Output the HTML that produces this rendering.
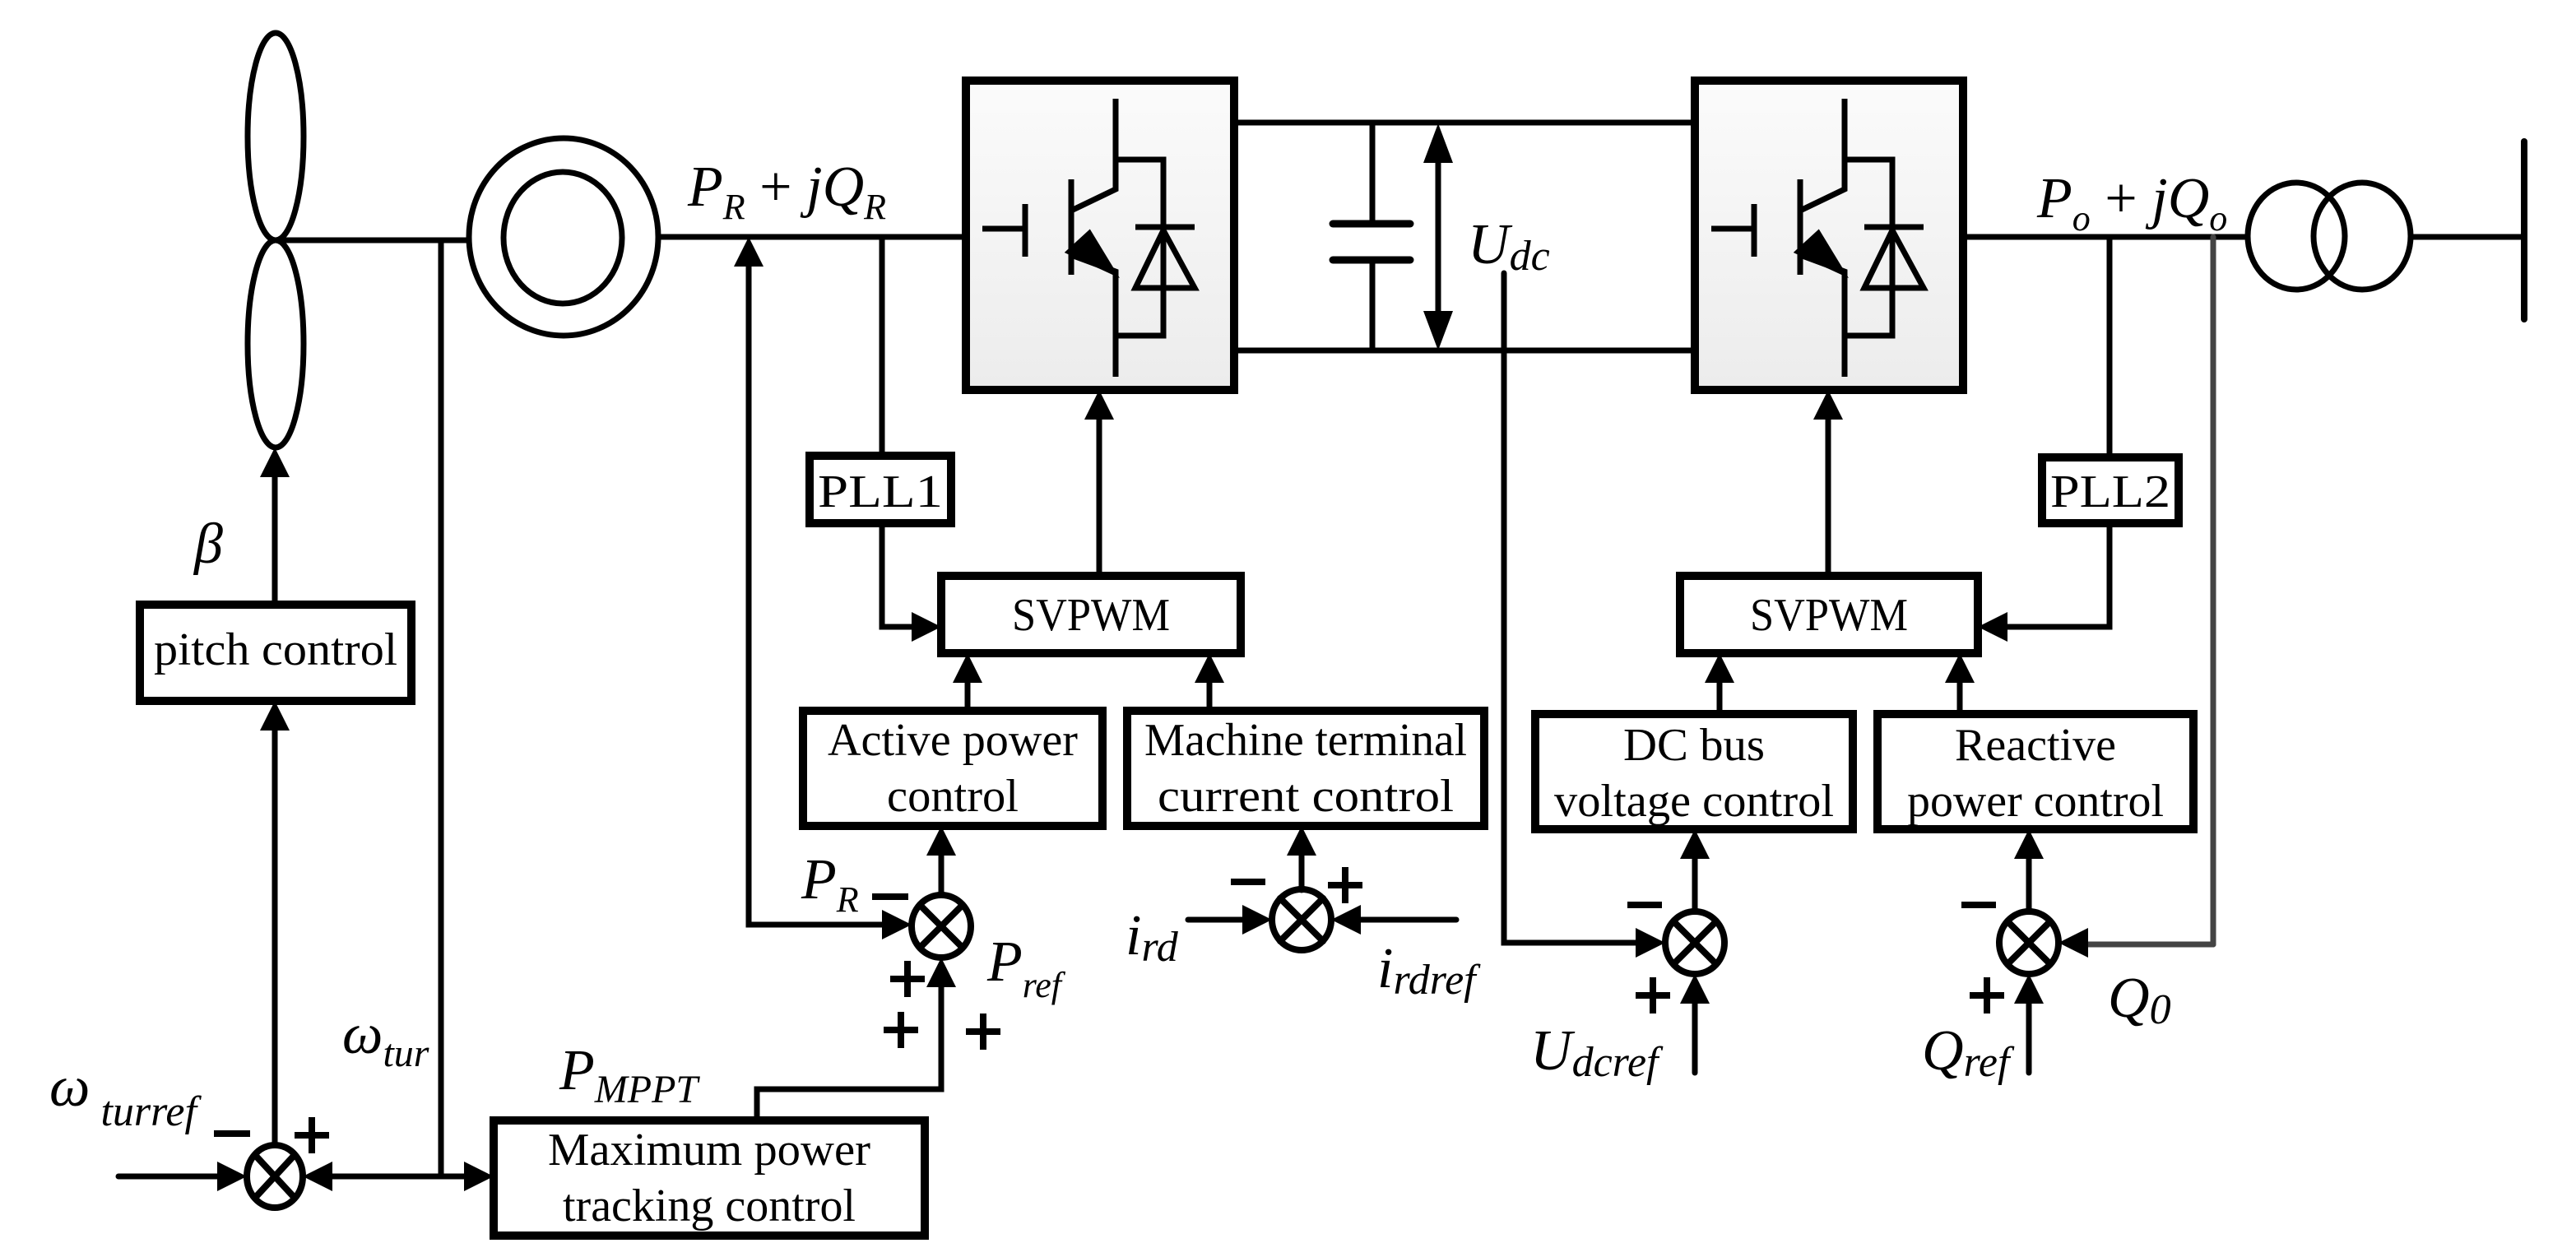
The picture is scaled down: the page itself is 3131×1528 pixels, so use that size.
<!DOCTYPE html>
<html><head><meta charset="utf-8"><style>
html,body{margin:0;padding:0;background:#fff;}
svg{display:block;}
text{font-family:"Liberation Serif","Times New Roman",serif;fill:#000;}
.it{font-style:italic;}
</style></head><body>
<svg width="3131" height="1528" viewBox="0 0 1565.5 764" xmlns="http://www.w3.org/2000/svg">
<defs>
<linearGradient id="g" x1="0" y1="0" x2="0" y2="1"><stop offset="0" stop-color="#fbfbfb"/><stop offset="1" stop-color="#ececec"/></linearGradient>
<g id="igbt" fill="none" stroke="#000" stroke-width="3.5">
<line x1="597" y1="139" x2="623" y2="139"/>
<line x1="623" y1="124" x2="623" y2="156"/>
<line x1="651" y1="109" x2="651" y2="167"/>
<polyline points="651,128 678,115 678,60"/>
<polyline points="651,155 678,165 678,229"/>
<polyline points="678,97 707,97 707,204 678,204"/>
<line x1="690" y1="138" x2="726" y2="138"/>
<polygon points="707,140 690,175 726,175"/>
<polygon points="650,153 662,142 676,165" fill="#000"/>
</g>
</defs>
<g stroke="#000" stroke-width="3.5" fill="none" stroke-linecap="round">
<ellipse cx="167.5" cy="83" rx="17" ry="63"/>
<ellipse cx="167.5" cy="209" rx="17" ry="63"/>
<line x1="167" y1="146" x2="285" y2="146"/>
<ellipse cx="342.5" cy="144" rx="57.5" ry="60"/>
<ellipse cx="342" cy="144.5" rx="36" ry="40"/>
<line x1="400" y1="144" x2="587" y2="144"/>
<line x1="268" y1="146" x2="268" y2="715"/>
<polyline points="455,160 455,562 540,562"/>
<line x1="536" y1="144" x2="536" y2="277"/>
<polyline points="536,318 536,381 556,381"/>
<rect x="587" y="49" width="163" height="188" fill="url(#g)" stroke-width="5"/>
<line x1="668" y1="255" x2="668" y2="350"/>
<line x1="750" y1="74.5" x2="1030" y2="74.5"/>
<line x1="750" y1="213" x2="1030" y2="213"/>
<line x1="834" y1="74.5" x2="834" y2="136"/>
<line x1="834" y1="158" x2="834" y2="213"/>
<line x1="810" y1="136" x2="857" y2="136" stroke-width="4.5"/>
<line x1="810" y1="158" x2="857" y2="158" stroke-width="4.5"/>
<line x1="874" y1="90" x2="874" y2="198"/>
<polyline points="914,166 914,573 996,573"/>
<rect x="1030" y="49" width="163" height="188" fill="url(#g)" stroke-width="5"/>
<line x1="1111" y1="255" x2="1111" y2="350"/>
<line x1="1193" y1="144" x2="1366" y2="144"/>
<ellipse cx="1395.5" cy="143.5" rx="29.5" ry="32.5"/>
<ellipse cx="1435.5" cy="143.5" rx="29.5" ry="32.5"/>
<line x1="1465" y1="144" x2="1534" y2="144"/>
<line x1="1534" y1="86" x2="1534" y2="194" stroke-width="4"/>
<line x1="1282" y1="144" x2="1282" y2="278"/>
<polyline points="1282,318 1282,381 1218,381"/>
<line x1="1345" y1="144" x2="1345" y2="574" stroke="#444"/>
<polyline points="1345,574 1268,574" stroke="#444"/>
<rect x="572" y="350" width="182" height="47" stroke-width="5"/>
<rect x="1021" y="350" width="181" height="47" stroke-width="5"/>
<rect x="85" y="367.5" width="165" height="58.5" stroke-width="5"/>
<rect x="488" y="432" width="182" height="70" stroke-width="5"/>
<rect x="685" y="432" width="217" height="70" stroke-width="5"/>
<rect x="933" y="434" width="193" height="70" stroke-width="5"/>
<rect x="1141" y="434" width="192" height="70" stroke-width="5"/>
<rect x="300" y="681" width="262" height="70" stroke-width="5"/>
<rect x="492" y="277" width="86" height="41" stroke-width="5"/>
<rect x="1241" y="278" width="83" height="40" stroke-width="5"/>
<line x1="167" y1="290" x2="167" y2="367"/>
<line x1="167" y1="444" x2="167" y2="696"/>
<line x1="72" y1="715" x2="134" y2="715"/>
<line x1="200" y1="715" x2="284" y2="715"/>
<line x1="588" y1="415" x2="588" y2="432"/>
<line x1="735" y1="415" x2="735" y2="432"/>
<line x1="572" y1="520" x2="572" y2="544"/>
<polyline points="460,681 460,662 572,662 572,600"/>
<line x1="791" y1="520" x2="791" y2="541"/>
<line x1="722" y1="559" x2="757" y2="559"/>
<line x1="825" y1="559" x2="885" y2="559"/>
<line x1="1045" y1="415" x2="1045" y2="434"/>
<line x1="1191" y1="415" x2="1191" y2="434"/>
<line x1="1030" y1="522" x2="1030" y2="554"/>
<line x1="1233" y1="522" x2="1233" y2="554"/>
<line x1="1030" y1="610" x2="1030" y2="652"/>
<line x1="1233" y1="610" x2="1233" y2="652"/>
<g stroke-width="4">
<ellipse cx="167" cy="715" rx="17" ry="19"/>
<line x1="155" y1="702" x2="179" y2="728"/><line x1="179" y1="702" x2="155" y2="728"/>
<ellipse cx="572" cy="563" rx="18" ry="19"/>
<line x1="559" y1="550" x2="585" y2="576"/><line x1="585" y1="550" x2="559" y2="576"/>
<ellipse cx="791" cy="559" rx="18" ry="18.5"/>
<line x1="778" y1="546" x2="804" y2="572"/><line x1="804" y1="546" x2="778" y2="572"/>
<ellipse cx="1030" cy="573" rx="18" ry="19"/>
<line x1="1017" y1="560" x2="1043" y2="586"/><line x1="1043" y1="560" x2="1017" y2="586"/>
<ellipse cx="1233" cy="573" rx="18" ry="19"/>
<line x1="1220" y1="560" x2="1246" y2="586"/><line x1="1246" y1="560" x2="1220" y2="586"/>
</g>
</g>
<use href="#igbt"/>
<use href="#igbt" x="443"/>
<g fill="#000">
<polygon points="167,272 158,290 176,290"/>
<polygon points="167,426 158,444 176,444"/>
<polygon points="150,715 132,706 132,724"/>
<polygon points="184,715 202,706 202,724"/>
<polygon points="300,715 282,706 282,724"/>
<polygon points="455,144 446,162 464,162"/>
<polygon points="572,381 554,372 554,390"/>
<polygon points="668,237 659,255 677,255"/>
<polygon points="588,397 579,415 597,415"/>
<polygon points="735,397 726,415 744,415"/>
<polygon points="572,502 563,520 581,520"/>
<polygon points="554,562 536,553 536,571"/>
<polygon points="572,582 563,600 581,600"/>
<polygon points="791,502 782,520 800,520"/>
<polygon points="773,559 755,550 755,568"/>
<polygon points="809,559 827,550 827,568"/>
<polygon points="1111,237 1102,255 1120,255"/>
<polygon points="1202,381 1220,372 1220,390"/>
<polygon points="1045,397 1036,415 1054,415"/>
<polygon points="1191,397 1182,415 1200,415"/>
<polygon points="1030,504 1021,522 1039,522"/>
<polygon points="1233,504 1224,522 1242,522"/>
<polygon points="1012,573 994,564 994,582"/>
<polygon points="1251,573 1269,564 1269,582"/>
<polygon points="1030,592 1021,610 1039,610"/>
<polygon points="1233,592 1224,610 1242,610"/>
<polygon points="874,75 865,99 883,99"/>
<polygon points="874,213 865,189 883,189"/>
</g>
<g stroke="#000" stroke-width="4" stroke-linecap="butt">
<line x1="130" y1="689" x2="152" y2="689"/>
<line x1="179" y1="690" x2="200" y2="690"/><line x1="189.5" y1="679" x2="189.5" y2="701"/>
<line x1="530" y1="545" x2="552" y2="545"/>
<line x1="541" y1="595" x2="562" y2="595"/><line x1="551.5" y1="584" x2="551.5" y2="606"/>
<line x1="537" y1="626" x2="558" y2="626"/><line x1="547.5" y1="615" x2="547.5" y2="637"/>
<line x1="587" y1="627" x2="608" y2="627"/><line x1="597.5" y1="616" x2="597.5" y2="638"/>
<line x1="748" y1="536" x2="769" y2="536"/>
<line x1="807" y1="538" x2="828" y2="538"/><line x1="817.5" y1="527" x2="817.5" y2="549"/>
<line x1="989" y1="550" x2="1010" y2="550"/>
<line x1="994" y1="605" x2="1015" y2="605"/><line x1="1004.5" y1="594" x2="1004.5" y2="616"/>
<line x1="1192" y1="550" x2="1213" y2="550"/>
<line x1="1197" y1="605" x2="1218" y2="605"/><line x1="1207.5" y1="594" x2="1207.5" y2="616"/>
</g>
<g font-size="28" text-anchor="middle">
<text x="167.5" y="404" textLength="148" lengthAdjust="spacingAndGlyphs">pitch control</text>
<text x="535" y="308" textLength="76" lengthAdjust="spacingAndGlyphs">PLL1</text>
<text x="1282.5" y="308" textLength="73" lengthAdjust="spacingAndGlyphs">PLL2</text>
<text x="663" y="383" textLength="96" lengthAdjust="spacingAndGlyphs">SVPWM</text>
<text x="1111.5" y="383" textLength="96" lengthAdjust="spacingAndGlyphs">SVPWM</text>
<text x="579" y="459" textLength="152" lengthAdjust="spacingAndGlyphs">Active power</text>
<text x="579" y="493" textLength="80" lengthAdjust="spacingAndGlyphs">control</text>
<text x="793.5" y="459" textLength="196" lengthAdjust="spacingAndGlyphs">Machine terminal</text>
<text x="793.5" y="493" textLength="180" lengthAdjust="spacingAndGlyphs">current control</text>
<text x="1029.5" y="462" textLength="86" lengthAdjust="spacingAndGlyphs">DC bus</text>
<text x="1029.5" y="496" textLength="170" lengthAdjust="spacingAndGlyphs">voltage control</text>
<text x="1237" y="462" textLength="98" lengthAdjust="spacingAndGlyphs">Reactive</text>
<text x="1237" y="496" textLength="156" lengthAdjust="spacingAndGlyphs">power control</text>
<text x="431" y="708" textLength="196" lengthAdjust="spacingAndGlyphs">Maximum power</text>
<text x="431" y="742" textLength="178" lengthAdjust="spacingAndGlyphs">tracking control</text>
</g>
<g font-size="35">
<text x="418" y="125"><tspan class="it">P</tspan><tspan class="it" font-size="22" dy="8">R</tspan><tspan dy="-8"> + </tspan><tspan class="it">jQ</tspan><tspan class="it" font-size="22" dy="8">R</tspan></text>
<text x="1238" y="132"><tspan class="it">P</tspan><tspan class="it" font-size="22" dy="8">o</tspan><tspan dy="-8"> + </tspan><tspan class="it">jQ</tspan><tspan class="it" font-size="22" dy="8">o</tspan></text>
<text x="892" y="160" class="it">U<tspan font-size="26" dy="4">dc</tspan></text>
<text x="118" y="342" class="it">β</text>
<text x="208" y="640" class="it">ω<tspan font-size="24" dy="8">tur</tspan></text>
<text x="30" y="672" class="it">ω<tspan font-size="26" dy="12"> turref</tspan></text>
<text x="340" y="662" class="it">P<tspan font-size="24" dy="8">MPPT</tspan></text>
<text x="487" y="546" class="it">P<tspan font-size="22" dy="8">R</tspan></text>
<text x="600" y="596" class="it">P<tspan font-size="22" dy="10">ref</tspan></text>
<text x="684" y="580" class="it">i<tspan font-size="26" dy="4">rd</tspan></text>
<text x="837" y="600" class="it">i<tspan font-size="26" dy="4">rdref</tspan></text>
<text x="930" y="650" class="it">U<tspan font-size="26" dy="4">dcref</tspan></text>
<text x="1168" y="650" class="it">Q<tspan font-size="26" dy="4">ref</tspan></text>
<text x="1281" y="618" class="it">Q<tspan font-size="26" dy="4">0</tspan></text>
</g>
</svg>
</body></html>
